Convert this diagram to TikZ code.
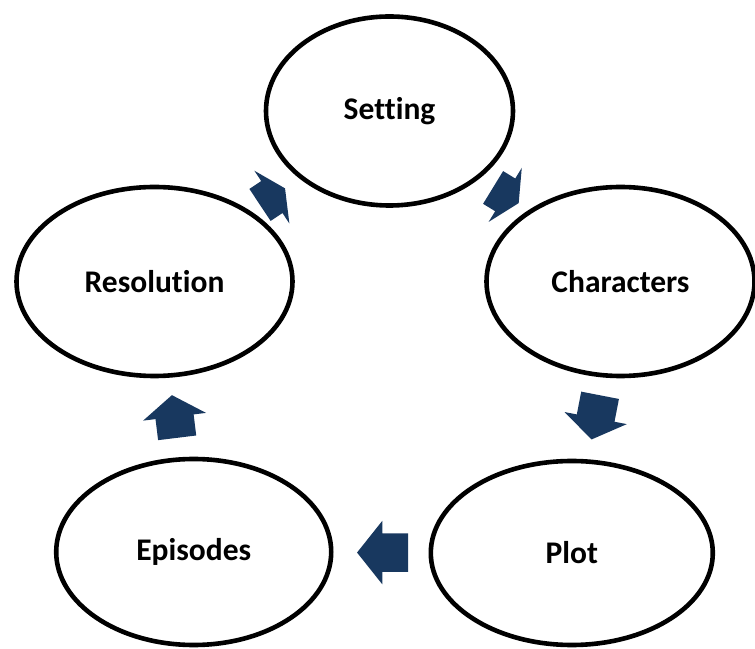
\documentclass[tikz,border=0pt]{standalone}
\usepackage{fontspec}
\setmainfont{Carlito}[Ligatures=NoCommon]
\usetikzlibrary{shapes.geometric,shapes.arrows,calc}
\definecolor{cycblue}{RGB}{24,56,95}
\tikzset{
  stage/.style={ellipse,draw=black,line width=4.6pt,inner sep=0pt,
                font=\bfseries\fontsize{31.5}{38}\selectfont},
  cyc/.style={single arrow,fill=cycblue,inner xsep=0pt,inner ysep=19pt,
              single arrow head extend=12.5pt,minimum height=#1,anchor=tail},
}

\begin{document}
\begin{tikzpicture}[x=1pt,y=1pt]
  \useasboundingbox (0,0) rectangle (755,648);
  % ===== story stages =====
  \node[stage,minimum width=247pt,minimum height=189pt] (set) at (389.5,537)   {Setting};
  \node[stage,minimum width=268pt,minimum height=189pt] (chr) at (620.5,366.5) {Characters};
  \node[stage,minimum width=282pt,minimum height=184pt] (plt) at (571.8,95)    {Plot};
  \node[stage,minimum width=275pt,minimum height=186pt] (epi) at (193.7,96)    {Episodes};
  \node[stage,minimum width=276pt,minimum height=189pt] (res) at (154.5,366.5) {Resolution};

  % ===== cycle arrows =====
  \node[cyc=30pt,single arrow tip angle=127,rotate=33.6]  (a1) at ($(res)!0.5!(set)!15pt!(res)$) {};
  \node[cyc=30pt,single arrow tip angle=127,rotate=-31.5] (a2) at ($(set)!0.5!(chr)!15pt!(set)$) {};
  \node[cyc=45pt,single arrow tip angle=111,rotate=-101]  (a3) at ($(chr)!0.5!(plt)!22.5pt!(chr)$) {};
  \node[cyc=51pt,single arrow tip angle=103,rotate=180]   (a4) at ($(plt)!0.5!(epi)!25.5pt!(plt)$) {};
  \node[cyc=43pt,single arrow tip angle=111,rotate=97]    (a5) at ($(epi)!0.5!(res)!21.5pt!(epi)$) {};
\end{tikzpicture}
\end{document}
